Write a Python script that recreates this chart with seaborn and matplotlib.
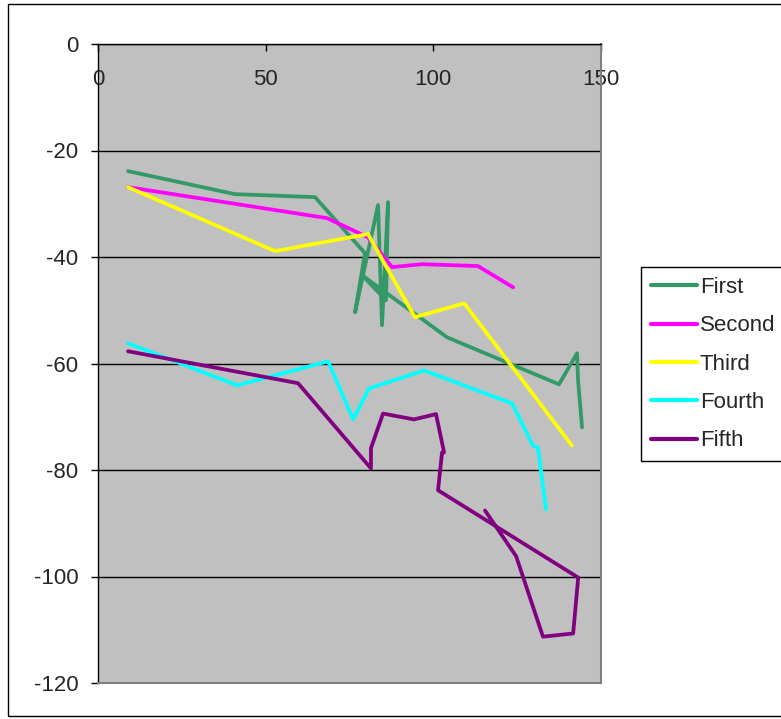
import matplotlib
matplotlib.use("Agg")
import matplotlib.pyplot as plt
from matplotlib.patches import Rectangle
import seaborn as sns
import pandas as pd

# Track data for each series (x, y pairs in drawing order)
first_x = [8.95, 40.86, 64.72, 79.63, 76.65, 83.51, 84.70, 86.49, 85.89, 78.74, 104.09, 137.49, 142.86, 143.16, 144.35]
first_y = [-23.87, -28.20, -28.76, -39.29, -50.38, -30.26, -52.82, -29.70, -48.12, -43.42, -55.08, -63.91, -58.08, -63.16, -71.99]

second_x = [8.95, 68.3, 80.5, 87.7, 96.6, 113.3, 123.8]
second_y = [-26.88, -32.7, -36.3, -41.9, -41.35, -41.7, -45.7]

third_x = [8.95, 52.8, 80.5, 94.5, 109.2, 141.3]
third_y = [-26.88, -38.9, -35.7, -51.3, -48.7, -75.4]

fourth_x = [8.95, 41.5, 68.6, 76.1, 80.8, 97.2, 123.5, 129.7, 131.2, 133.6]
fourth_y = [-56.2, -64.1, -59.6, -70.5, -64.7, -61.3, -67.5, -75.4, -75.8, -87.4]

fifth_x = [8.95, 59.65, 81.4, 81.4, 85.0, 94.2, 100.8, 103.2, 102.6, 101.4, 143.2, 141.7, 132.7, 124.7, 115.4]
fifth_y = [-57.7, -63.7, -79.7, -75.9, -69.4, -70.5, -69.5, -76.7, -76.7, -83.8, -100.2, -110.7, -111.3, -96.2, -87.6]

series_names = ["First", "Second", "Third", "Fourth", "Fifth"]
series_colors = ["#339966", "#FF00FF", "#FFFF00", "#00FFFF", "#800080"]
x_ticks = [0, 50, 100, 150]
y_ticks = [0, -20, -40, -60, -80, -100, -120]

frames = []
for name, xs, ys in zip(series_names,
                        [first_x, second_x, third_x, fourth_x, fifth_x],
                        [first_y, second_y, third_y, fourth_y, fifth_y]):
    frames.append(pd.DataFrame({"x": xs, "y": ys, "series": name}))
df = pd.concat(frames, ignore_index=True)

sns.set_style("white")
plt.rcParams["font.family"] = ["Liberation Sans", "DejaVu Sans"]
FS = 16

fig = plt.figure(figsize=(7.81, 7.19), dpi=100)
fig.patch.set_facecolor("white")
ax = fig.add_axes([98 / 781, 1 - 683 / 719, (601 - 98) / 781, (683 - 44) / 719])
ax.set_facecolor("#C0C0C0")

# horizontal gridlines
for yv in y_ticks:
    ax.axhline(yv, color="black", lw=1.0, zorder=1)

sns.lineplot(data=df, x="x", y="y", hue="series", hue_order=series_names,
             palette=series_colors, sort=False, estimator=None,
             linewidth=2.7, ax=ax, legend=False, zorder=3)

ax.set_xlim(0, 150)
ax.set_ylim(-120, 0)
ax.set_xlabel("")
ax.set_ylabel("")

ax.xaxis.tick_top()
ax.set_xticks(x_ticks)
ax.set_xticklabels([str(v) for v in x_ticks])
ax.tick_params(axis="x", direction="in", length=5, width=1, color="black",
               labelsize=FS, pad=-33, top=True, bottom=False)
ax.set_yticks(y_ticks)
ax.set_yticklabels([str(v) for v in y_ticks])
ax.tick_params(axis="y", direction="out", length=5, width=1, color="black",
               labelsize=FS, pad=9, left=True)

for side in ["top", "left"]:
    ax.spines[side].set_color("black")
    ax.spines[side].set_linewidth(1.0)
for side in ["right", "bottom"]:
    ax.spines[side].set_color("#808080")
    ax.spines[side].set_linewidth(1.5)

handles = [plt.Line2D([0], [0], color=c, lw=3) for c in series_colors]
leg = fig.legend(handles, series_names, loc="upper left",
                 bbox_to_anchor=(641 / 781, 1 - 267 / 719),
                 fontsize=FS, frameon=True, fancybox=False, edgecolor="black",
                 framealpha=1, handlelength=2.05, handletextpad=0.15,
                 labelspacing=0.78, borderpad=0.45, borderaxespad=0)
leg.get_frame().set_linewidth(1.0)

# outer chart border
fig.add_artist(Rectangle((8 / 781, 1 - 716 / 719), 1.0, 712 / 719,
                         transform=fig.transFigure, fill=False,
                         edgecolor="black", lw=1.0, clip_on=False))

fig.savefig("out.png", dpi=100)
